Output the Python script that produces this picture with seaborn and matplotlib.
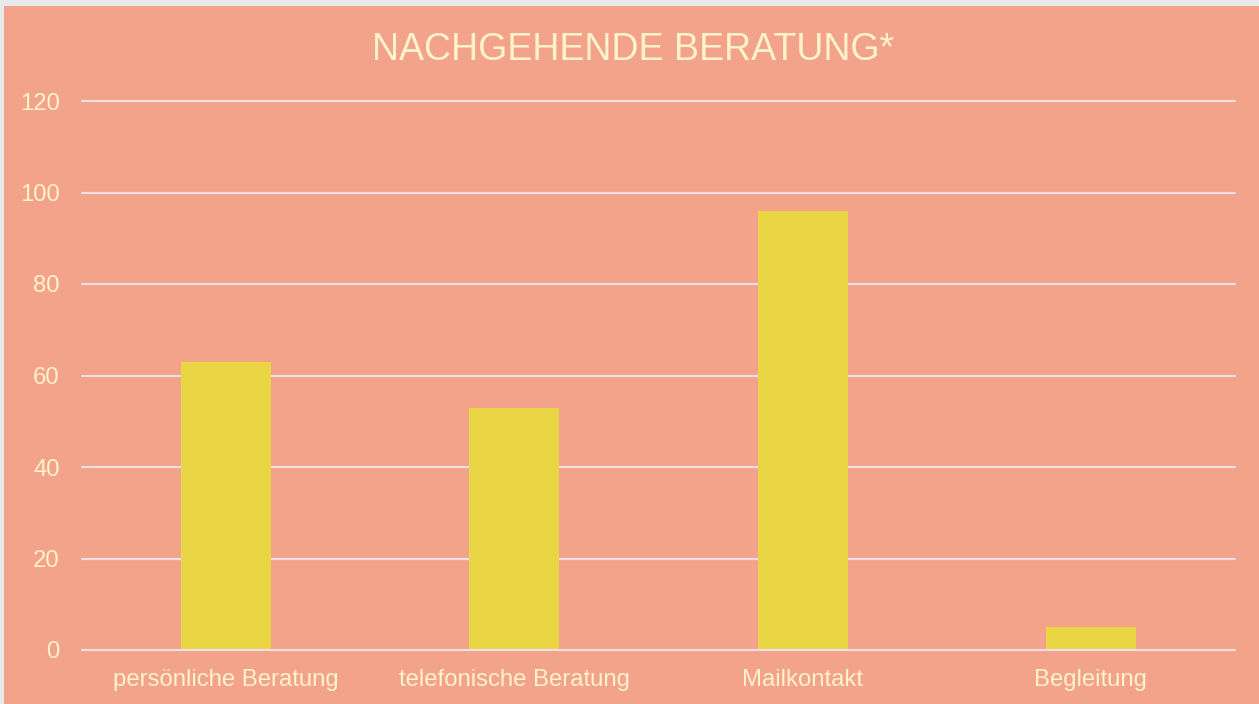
import matplotlib
matplotlib.use("Agg")
import matplotlib.pyplot as plt
import seaborn as sns
import pandas as pd
from matplotlib.patches import Rectangle

# data
categories = ["persönliche Beratung", "telefonische Beratung", "Mailkontakt", "Begleitung"]
values = [63, 53, 96, 5]
y_ticks = [0, 20, 40, 60, 80, 100, 120]

bg = "#F3A38A"
bar_color = "#EAD544"
text_color = "#FFF3CC"
grid_color = "#F0DEE2"

sns.set_theme(style="white")
plt.rcParams["font.family"] = ["Liberation Sans", "DejaVu Sans"]

W, H = 1259, 704
fig = plt.figure(figsize=(W / 100, H / 100), dpi=100)
fig.patch.set_facecolor("#E9E9E9")
fig.patches.append(Rectangle((4 / W, 0), 1 - 4 / W, 1 - 6 / H,
                             transform=fig.transFigure, facecolor=bg,
                             edgecolor="none", zorder=-10))

ax = fig.add_axes([82 / W, (H - 650) / H, (1235 - 82) / W, (650 - 101) / H])
ax.set_facecolor("none")

df = pd.DataFrame({"Kategorie": categories, "Anzahl": values})
sns.barplot(data=df, x="Kategorie", y="Anzahl", color=bar_color,
            width=0.3125, saturation=1, linewidth=0, ax=ax, zorder=3)

ax.set_ylim(0, 120)
ax.set_xlim(-0.5, len(categories) - 0.5)
ax.set_yticks(y_ticks)
for s in ax.spines.values():
    s.set_visible(False)
# horizontal gridlines (unclipped so the 0 and 120 lines are full width)
for t in y_ticks:
    ax.axhline(t, color=grid_color, linewidth=1.6, zorder=0 if t else 4, clip_on=False)

ax.tick_params(axis="y", length=0, pad=16, labelsize=17.2, labelcolor=text_color)
ax.tick_params(axis="x", length=0, pad=14, labelsize=17.2, labelcolor=text_color)
ax.set_xlabel("")
ax.set_ylabel("")

fig.text(633 / W, 1 - 50 / H, "NACHGEHENDE BERATUNG*", ha="center", va="center",
         fontsize=27, color=text_color)

fig.savefig("out.png", dpi=100, facecolor=fig.get_facecolor())
